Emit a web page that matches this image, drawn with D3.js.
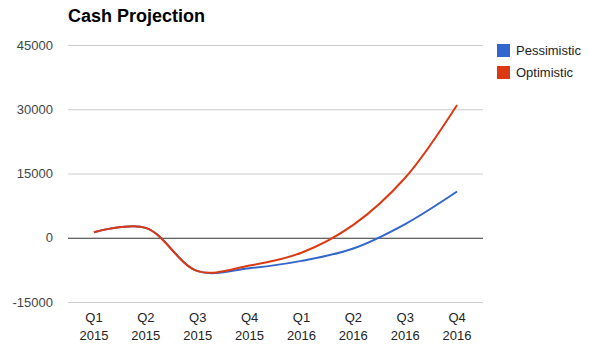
<!DOCTYPE html>
<html>
<head>
<meta charset="utf-8">
<script src="https://cdn.jsdelivr.net/npm/d3@7"></script>
<style>
  body { margin: 0; background: #fff; }
  svg { font-family: "Liberation Sans", Arial, sans-serif; }
</style>
</head>
<body>
<svg id="chart" width="589" height="345"></svg>
<script>
// chart data
var quarters = ["Q1", "Q2", "Q3", "Q4", "Q1", "Q2", "Q3", "Q4"];
var years = ["2015", "2015", "2015", "2015", "2016", "2016", "2016", "2016"];
var pessimistic = [1300, 2300, -7800, -7100, -5400, -2500, 3200, 10800];
var optimistic = [1300, 2300, -7800, -6500, -3500, 3000, 14000, 31000];
var yTicks = [-15000, 0, 15000, 30000, 45000];
var seriesNames = ["Pessimistic", "Optimistic"];
var seriesColors = ["#3366cc", "#dc3912"];

var svg = d3.select("#chart");
var plot = { left: 68, right: 483, top: 45, bottom: 302 };

var x = d3.scaleBand()
  .domain(d3.range(quarters.length))
  .range([plot.left, plot.right]);

var y = d3.scaleLinear()
  .domain([-15000, 45000])
  .range([plot.bottom, plot.top]);

// title
svg.append("text")
  .attr("x", 68).attr("y", 22)
  .attr("font-size", 18).attr("font-weight", "bold")
  .attr("fill", "#000")
  .text("Cash Projection");

// gridlines (zero line darker)
svg.append("g").selectAll("line")
  .data(yTicks)
  .enter().append("line")
  .attr("x1", plot.left).attr("x2", plot.right)
  .attr("y1", function(d) { return y(d) + 0.5; })
  .attr("y2", function(d) { return y(d) + 0.5; })
  .attr("stroke", function(d) { return d === 0 ? "#333" : "#ccc"; })
  .attr("stroke-width", 1);

// y tick labels
svg.append("g").selectAll("text")
  .data(yTicks)
  .enter().append("text")
  .attr("x", 53)
  .attr("y", function(d) { return y(d) + 4.5; })
  .attr("text-anchor", "end")
  .attr("font-size", 13)
  .attr("fill", "#444")
  .text(function(d) { return d; });

// x labels, two lines each
var xl = svg.append("g").selectAll("text")
  .data(d3.range(quarters.length))
  .enter().append("text")
  .attr("text-anchor", "middle")
  .attr("font-size", 13)
  .attr("fill", "#222");
xl.append("tspan")
  .attr("x", function(i) { return x(i) + x.bandwidth() / 2; })
  .attr("y", 322)
  .text(function(i) { return quarters[i]; });
xl.append("tspan")
  .attr("x", function(i) { return x(i) + x.bandwidth() / 2; })
  .attr("y", 340)
  .text(function(i) { return years[i]; });

// lines
var line = d3.line()
  .x(function(d, i) { return x(i) + x.bandwidth() / 2; })
  .y(function(d) { return y(d); })
  .curve(d3.curveCatmullRom.alpha(0.5));

[pessimistic, optimistic].forEach(function(series, k) {
  svg.append("path")
    .attr("d", line(series))
    .attr("fill", "none")
    .attr("stroke", seriesColors[k])
    .attr("stroke-width", 2);
});

// legend
var leg = svg.append("g").selectAll("g")
  .data(seriesNames)
  .enter().append("g")
  .attr("transform", function(d, i) { return "translate(497," + (44 + i * 22) + ")"; });
leg.append("rect")
  .attr("width", 13).attr("height", 13)
  .attr("fill", function(d, i) { return seriesColors[i]; });
leg.append("text")
  .attr("x", 19).attr("y", 11)
  .attr("font-size", 13)
  .attr("fill", "#222")
  .text(function(d) { return d; });
</script>
</body>
</html>
